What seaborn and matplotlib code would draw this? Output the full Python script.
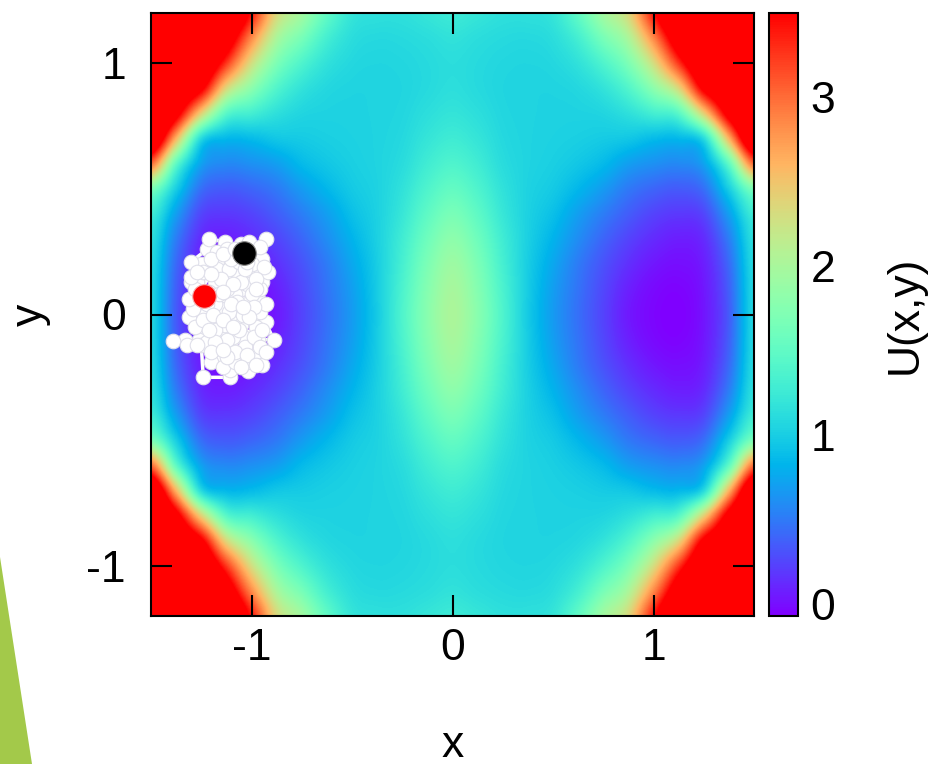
import numpy as np
import matplotlib
matplotlib.use('Agg')
import matplotlib.pyplot as plt
from matplotlib.patches import Polygon
import seaborn as sns

# the picture is mirror symmetric, so the rest is mirrored from it.
x_half = [-1.5, -1.375, -1.25, -1.125, -1.0, -0.875, -0.75, -0.625, -0.5, -0.375, -0.25, -0.125, 0.0]
y_half = [0.0, 0.1, 0.2, 0.3, 0.4, 0.5, 0.6, 0.7, 0.8, 0.9, 1.0, 1.1, 1.2]

# one list per x column, values for y = 0.0 ... 1.2
u_cols = [
    [1.08, 1.08, 1.10, 1.15, 1.28, 1.70, 3.00, 4.20, 4.60, 5.00, 5.50, 6.00, 6.50],
    [0.35, 0.37, 0.42, 0.52, 0.70, 1.00, 1.50, 2.60, 3.70, 4.20, 4.60, 5.00, 5.60],
    [0.03, 0.04, 0.07, 0.13, 0.25, 0.45, 0.72, 1.10, 2.40, 3.60, 4.20, 4.70, 5.10],
    [-0.07, -0.05, 0.00, 0.07, 0.19, 0.35, 0.58, 0.85, 1.45, 2.35, 3.25, 3.90, 4.40],
    [-0.04, -0.02, 0.04, 0.13, 0.24, 0.40, 0.62, 0.87, 1.30, 1.80, 2.30, 2.85, 3.40],
    [0.05, 0.08, 0.15, 0.24, 0.36, 0.50, 0.70, 0.95, 1.15, 1.40, 1.70, 2.02, 2.35],
    [0.24, 0.26, 0.31, 0.40, 0.52, 0.68, 0.86, 0.98, 1.06, 1.18, 1.38, 1.66, 1.95],
    [0.45, 0.47, 0.51, 0.60, 0.70, 0.84, 0.95, 1.01, 1.04, 1.08, 1.17, 1.31, 1.50],
    [0.68, 0.70, 0.75, 0.82, 0.90, 0.97, 1.01, 1.03, 1.04, 1.05, 1.08, 1.13, 1.20],
    [0.98, 0.99, 1.00, 1.02, 1.03, 1.04, 1.05, 1.05, 1.05, 1.05, 1.06, 1.09, 1.15],
    [1.38, 1.36, 1.32, 1.28, 1.22, 1.17, 1.12, 1.09, 1.07, 1.06, 1.07, 1.10, 1.15],
    [1.78, 1.75, 1.69, 1.60, 1.49, 1.38, 1.28, 1.20, 1.14, 1.10, 1.10, 1.13, 1.20],
    [2.02, 1.99, 1.92, 1.81, 1.67, 1.52, 1.38, 1.27, 1.19, 1.14, 1.13, 1.17, 1.25],
]

# trajectory (white), start point (red) and last point (black)
traj_x = [-1.23, -1.18, -1.14, -1.20, -1.26, -1.30, -1.25, -1.30, -1.22, -1.16,
          -1.21, -1.13, -1.08, -1.12, -1.05, -1.00, -0.95, -0.92, -0.97, -1.03,
          -1.10, -1.17, -1.25, -1.31, -1.26, -1.33, -1.39, -1.32, -1.25, -1.24,
          -1.105, -1.105, -1.07, -1.015, -0.98, -0.95, -0.97, -0.89, -0.93, -0.98,
          -1.04, -1.10, -1.15, -1.19, -1.13, -1.08, -1.02, -1.07, -1.13, -1.19,
          -1.20, -1.14, -1.08, -1.02, -0.96, -0.93, -0.96, -1.02, -1.08, -1.15,
          -1.21, -1.27, -1.24, -1.17, -1.10, -1.05, -0.98, -0.93, -0.95, -1.00,
          -1.06, -1.12, -1.18, -1.23, -1.28, -1.22, -1.16, -1.09, -1.03, -0.99,
          -1.05, -1.11, -1.07, -1.00, -1.05, -1.11, -1.17, -1.12, -1.06, -1.01,
          -1.10, -1.15, -1.20, -1.27, -1.22, -1.16, -1.10, -1.04, -0.99, -0.95,
          -1.01, -1.06, -1.12, -1.18, -1.24, -1.29, -1.31, -1.28, -1.30, -1.27,
          -1.20, -1.14, -1.08, -1.01, -0.96, -0.94, -0.98, -1.03, -1.09, -1.14,
          -1.19, -1.14, -1.08, -1.02, -0.96, -0.93, -0.98, -1.05, -1.12, -1.18,
          -1.21, -1.27, -1.20, -1.14, -1.09, -1.04, -0.98, -1.02, -1.04]
traj_y = [0.07, 0.12, 0.05, -0.02, 0.03, 0.13, 0.20, 0.21, 0.26, 0.22,
          0.30, 0.29, 0.22, 0.15, 0.10, 0.17, 0.13, 0.17, 0.06, 0.02,
          -0.03, -0.08, -0.06, -0.01, -0.10, -0.10, -0.105, -0.12, -0.12, -0.25,
          -0.25, -0.22, -0.17, -0.225, -0.16, -0.20, -0.10, -0.10, -0.03, -0.05,
          -0.09, -0.13, -0.17, -0.14, -0.07, -0.02, 0.04, 0.00, -0.04, -0.04,
          -0.19, -0.21, -0.19, -0.19, 0.01, 0.04, 0.10, 0.12, 0.08, 0.02,
          0.09, 0.13, 0.17, 0.18, 0.20, 0.28, 0.24, 0.30, 0.22, 0.20,
          0.16, 0.10, 0.04, 0.00, -0.05, -0.11, -0.12, -0.09, -0.13, -0.09,
          -0.04, 0.01, 0.05, 0.08, 0.13, 0.18, 0.25, 0.26, 0.21, 0.25,
          0.22, 0.14, 0.16, 0.08, 0.04, 0.08, 0.04, 0.00, 0.03, -0.06,
          -0.01, -0.06, -0.10, -0.06, -0.02, 0.02, 0.06, 0.10, 0.15, 0.17,
          0.22, 0.24, 0.26, 0.29, 0.27, 0.19, 0.14, 0.18, 0.12, 0.09,
          0.00, -0.02, -0.15, -0.16, -0.13, -0.15, -0.20, -0.21, -0.17, -0.11,
          -0.06, -0.12, -0.15, -0.14, -0.05, 0.03, 0.10, 0.21, 0.25]
start_xy = (-1.235, 0.075)
end_xy = (-1.035, 0.246)

# build the full grid by mirroring the quarter
q = np.array(u_cols).T
left = np.vstack([q[::-1], q[1:]])
u_grid = np.hstack([left, left[:, -2::-1]])
dx = x_half[1] - x_half[0]
dy = y_half[1] - y_half[0]

sns.set_style("ticks")
plt.rcParams['font.family'] = ['Liberation Sans', 'DejaVu Sans']
plt.rcParams['axes.unicode_minus'] = False
for key in ['text.color', 'axes.labelcolor', 'xtick.color', 'ytick.color']:
    plt.rcParams[key] = 'black'

fig = plt.figure(figsize=(9.33, 7.64), dpi=100)
ax = fig.add_axes([151 / 933, 148 / 764, 603 / 933, 603 / 764])
cax = fig.add_axes([769 / 933, 148 / 764, 29 / 933, 603 / 764])

im = ax.imshow(u_grid, origin='lower', cmap='rainbow', vmin=-0.07, vmax=3.5,
               extent=[x_half[0] - dx / 2, -x_half[0] + dx / 2,
                       -y_half[-1] - dy / 2, y_half[-1] + dy / 2],
               interpolation='catrom', interpolation_stage='data', aspect='auto')

sns.lineplot(x=traj_x, y=traj_y, sort=False, estimator=None, ax=ax, color='white',
             lw=2.5, marker='o', markersize=10.5, markerfacecolor='white',
             markeredgecolor='#e0e0ea', markeredgewidth=0.8, legend=False)
ax.plot(*start_xy, 'o', ms=17, color='#ff0000', mec='#f4b0b0', mew=0.8, zorder=5)
ax.plot(*end_xy, 'o', ms=17, color='black', mec='#8a8a8a', mew=0.8, zorder=5)

ax.set_xlim(-1.5, 1.5)
ax.set_ylim(-1.2, 1.2)
ax.set_xticks([-1, 0, 1])
ax.set_yticks([-1, 0, 1])
ax.tick_params(direction='in', length=15, width=1.5, top=True, right=True,
               labelsize=32, color='black', labelcolor='black')
ax.tick_params(axis='x', pad=9)
ax.tick_params(axis='y', pad=18)
for s in ax.spines.values():
    s.set_linewidth(1.5)
    s.set_color('black')

ax.set_xlabel('x', fontsize=32, va='center')
ax.xaxis.set_label_coords(0.5, -0.214)
ax.set_ylabel('y', fontsize=32, va='center', ha='center')
ax.yaxis.set_label_coords(-0.2, 0.5)

cb = fig.colorbar(im, cax=cax, ticks=[0, 1, 2, 3])
cb.outline.set_linewidth(1.5)
cb.outline.set_edgecolor('black')
cax.tick_params(direction='in', length=21, width=1.3, labelsize=32, pad=9,
                color='black', labelcolor='black')
cb.set_label('U(x,y)', fontsize=32, va='center', ha='center')
cax.yaxis.set_label_coords(4.7, 0.5)

# green slide decoration at the lower left
fig.patches.append(Polygon([(0, 1 - 557 / 764), (32 / 933, 0), (0, 0)], closed=True,
                           transform=fig.transFigure, facecolor='#a3c94a', edgecolor='none'))

fig.savefig('out.png', dpi=100)
